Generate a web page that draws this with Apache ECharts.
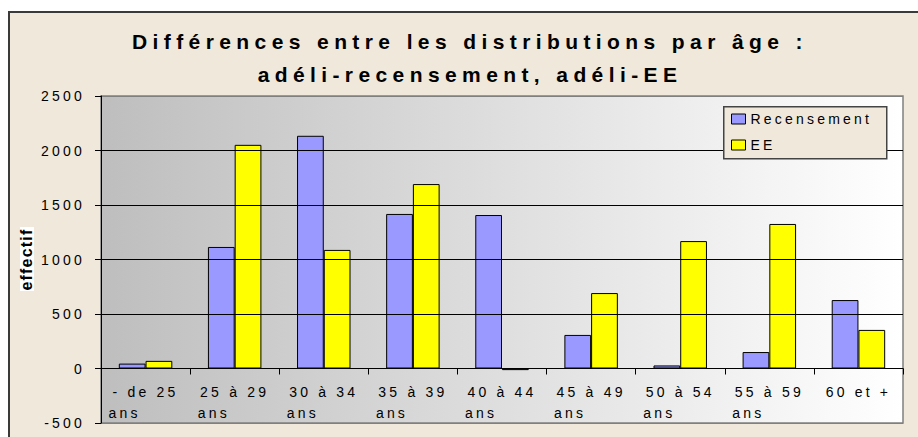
<!DOCTYPE html>
<html><head><meta charset="utf-8">
<script src="https://cdn.jsdelivr.net/npm/echarts@6/dist/echarts.min.js"></script>
<style>
html,body{margin:0;padding:0;background:#fff;width:918px;height:437px;overflow:hidden;}
#frame{position:absolute;left:8px;top:11px;width:930px;height:450px;background:#EFE8DB;border-top:2px solid #3a3a3a;border-left:2px solid #3a3a3a;box-sizing:border-box;}
#chart{position:absolute;left:0;top:0;width:918px;height:437px;}
#chart text[style*="21px"]{letter-spacing:5.4px;}
#chart text[style*="14px"]{letter-spacing:3.2px;}
#chart text[style*="16px"]{letter-spacing:1.2px;}
</style></head>
<body><div id="frame"></div><div id="chart"></div>
<script>
const titleText = 'Différences entre les distributions par âge :\nadéli-recensement, adéli-EE';
const categories = ['- de 25\nans', '25 à 29\nans', '30 à 34\nans', '35 à 39\nans', '40 à 44\nans', '45 à 49\nans', '50 à 54\nans', '55 à 59\nans', '60 et +'];
const seriesNames = ['Recensement', 'EE'];
const recensement = [45, 1115, 2135, 1418, 1408, 308, 28, 151, 628];
const ee = [70, 2052, 1088, 1692, -15, 692, 1169, 1326, 354];
const yMin = -500, yMax = 2500, yStep = 500;
const yName = 'effectif';

const FONT = '"Liberation Sans", Arial, sans-serif';
const GRID_TOP = 96, GRID_BOTTOM = 14, H = 437;
const plotH = H - GRID_TOP - GRID_BOTTOM;
const zeroOffset = -plotH * (0 - yMin) / (yMax - yMin);
const chart = echarts.init(document.getElementById('chart'), null, {renderer: 'svg', width: 918, height: 437});
chart.setOption({
  backgroundColor: 'transparent',
  animation: false,
  title: {
    text: titleText,
    left: 465,
    top: 20,
    textAlign: 'center',
    padding: 5,
    textStyle: {fontFamily: FONT, fontSize: 21, fontWeight: 'bold', color: '#000', lineHeight: 33}
  },
  legend: {
    orient: 'vertical', left: 731, top: 111, padding: 0,
    itemWidth: 14, itemHeight: 10, itemGap: 10, icon: 'rect',
    selectedMode: false, z: 10,
    data: seriesNames,
    itemStyle: {borderColor: '#000', borderWidth: 1},
    textStyle: {fontFamily: FONT, fontSize: 14, lineHeight: 16, color: '#000', padding: [0, 0, 0, 0]}
  },
  graphic: [{
    type: 'rect', left: 723, top: 106, z: 5,
    shape: {width: 163, height: 52},
    style: {fill: '#EFE8DB', stroke: '#444', lineWidth: 1.5}
  }, {
    type: 'rect', left: 20, top: 227, z: 1,
    shape: {width: 14, height: 64},
    style: {fill: '#ffffff'}
  }],
  grid: {
    left: 101, right: 15, top: GRID_TOP, bottom: GRID_BOTTOM, show: true,
    outerBoundsMode: 'none', containLabel: false,
    backgroundColor: {type: 'linear', x: 0, y: 0, x2: 1, y2: 0,
      colorStops: [{offset: 0, color: '#BEBEBE'}, {offset: 1, color: '#FFFFFF'}]},
    borderColor: '#808080', borderWidth: 1.5
  },
  xAxis: {
    type: 'category', data: categories, position: 'bottom', offset: zeroOffset,
    axisLine: {onZero: false, lineStyle: {color: '#000', width: 1}},
    axisTick: {show: true, length: 6, lineStyle: {color: '#000'}},
    splitLine: {show: false},
    axisLabel: {
      interval: 0, margin: 13, width: 74,
      formatter: function (v) {
        const p = v.split('\n');
        return p.length > 1 ? '{a|' + p[0] + '}\n{b|' + p[1] + '}' : '{a|' + p[0] + '}';
      },
      rich: {
        a: {fontFamily: FONT, fontSize: 14, lineHeight: 21, align: 'center', color: '#000'},
        b: {fontFamily: FONT, fontSize: 14, lineHeight: 21, align: 'left', color: '#000'}
      }
    }
  },
  yAxis: {
    type: 'value', min: yMin, max: yMax, interval: yStep, z: 3,
    name: yName, nameLocation: 'middle', nameRotate: 90, nameGap: 67,
    nameTextStyle: {fontFamily: FONT, fontSize: 16, fontWeight: 'bold', color: '#000', lineHeight: 15},
    axisLine: {show: true, lineStyle: {color: '#000', width: 1}},
    axisTick: {show: true, length: 6, lineStyle: {color: '#000'}},
    axisLabel: {margin: 16, fontFamily: FONT, fontSize: 14, color: '#000', formatter: function (v) { return String(v); }},
    splitLine: {show: true, lineStyle: {width: 1, color: ['#808080', '#000', '#000', '#000', '#000', '#000', '#808080']}}
  },
  series: [
    {name: seriesNames[0], type: 'bar', data: recensement, barGap: '0%', barCategoryGap: '40%',
     itemStyle: {color: '#9999FF', borderColor: '#000', borderWidth: 1}},
    {name: seriesNames[1], type: 'bar', data: ee, barGap: '0%', barCategoryGap: '40%',
     itemStyle: {color: '#FFFF00', borderColor: '#000', borderWidth: 1}}
  ]
});
</script>
</body></html>
